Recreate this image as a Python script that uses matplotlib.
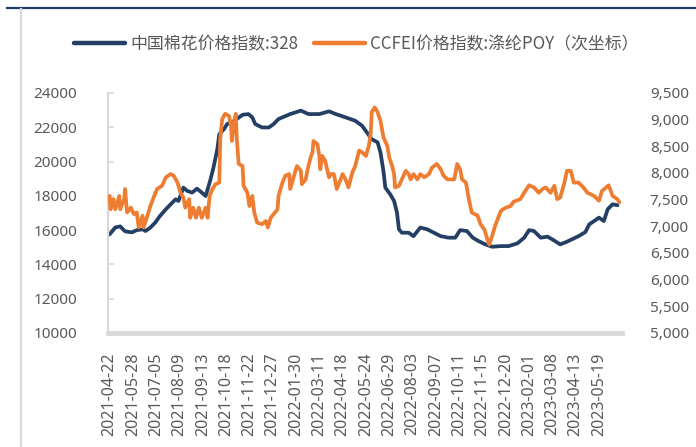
import matplotlib
matplotlib.use("Agg")
import matplotlib.pyplot as plt
from matplotlib.lines import Line2D
from matplotlib.ticker import FuncFormatter, FixedLocator

plt.rcParams['font.family'] = ['Noto Sans CJK SC', 'Noto Sans', 'DejaVu Sans']

# Category axis: trading days, labelled every 24 sessions
tick_labels = [
    "2021-04-22", "2021-05-28", "2021-07-05", "2021-08-09", "2021-09-13",
    "2021-10-18", "2021-11-22", "2021-12-27", "2022-01-30", "2022-03-11",
    "2022-04-18", "2022-05-24", "2022-06-29", "2022-08-03", "2022-09-07",
    "2022-10-11", "2022-11-15", "2022-12-20", "2023-02-01", "2023-03-08",
    "2023-04-13", "2023-05-19",
]
tick_step = 24

# China Cotton Index 328 (yuan/t), trading-day position -> value
cotton_pos = [0, 6, 11, 16, 23, 28, 34, 37, 42, 47, 52, 58, 63, 68, 71, 76, 80,
              85, 90, 95, 99, 104, 107, 111, 113, 118, 121, 126, 131, 137, 143,
              147, 150, 157, 164, 169, 174, 178, 186, 197, 205, 216, 226, 233,
              243, 253, 260, 265, 270, 276, 279, 282, 284, 289, 293, 296, 298,
              301, 308, 313, 320, 327, 334, 341, 349, 356, 361, 368, 374, 380,
              387, 394, 403, 411, 420, 427, 432, 437, 444, 451, 456, 464, 470,
              476, 483, 490, 494, 499, 504, 509, 513, 518, 523]
cotton_val = [15750, 16160, 16220, 15930, 15870, 16000, 16050, 15950, 16150,
              16440, 16830, 17220, 17510, 17800, 17700, 18480, 18290, 18190,
              18420, 18190, 17990, 18970, 19650, 20730, 21600, 21900, 22190,
              22290, 22480, 22730, 22770, 22580, 22190, 21990, 21990, 22190,
              22480, 22580, 22770, 22970, 22770, 22770, 22930, 22770, 22580,
              22380, 22090, 21700, 21310, 21120, 20530, 19460, 18480, 18090,
              17700, 17020, 16050, 15850, 15850, 15650, 16150, 16050, 15850,
              15650, 15560, 15560, 16000, 15950, 15560, 15360, 15170, 15030,
              15070, 15070, 15230, 15560, 16000, 15950, 15560, 15620, 15460,
              15170, 15300, 15460, 15650, 15890, 16340, 16530, 16730, 16530,
              17220, 17510, 17450]

# CCFEI polyester POY index (yuan/t, secondary axis)
poy_pos = [0, 1, 4, 6, 10, 11, 15, 16, 18, 22, 25, 28, 30, 34, 35, 39, 42, 46,
           49, 54, 58, 63, 66, 70, 73, 76, 78, 82, 83, 86, 89, 92, 95, 99, 101,
           103, 106, 109, 113, 114, 116, 119, 123, 125, 126, 128, 130, 131, 133,
           137, 138, 142, 144, 147, 149, 152, 157, 161, 163, 166, 169, 173, 174,
           178, 181, 185, 186, 190, 193, 197, 198, 202, 204, 207, 209, 210, 214,
           216, 217, 219, 222, 226, 228, 231, 234, 238, 240, 243, 246, 250, 253,
           257, 260, 264, 267, 269, 270, 273, 276, 279, 282, 286, 288, 291, 293,
           294, 298, 301, 305, 308, 310, 313, 317, 320, 324, 329, 332, 337, 341,
           344, 348, 355, 358, 361, 363, 367, 370, 373, 379, 382, 386, 389, 391,
           394, 397, 403, 408, 413, 416, 423, 428, 432, 437, 442, 446, 449, 454,
           458, 461, 464, 468, 471, 475, 478, 483, 488, 492, 499, 504, 507, 514,
           518, 523, 525]
poy_val = [7570, 7320, 7510, 7320, 7570, 7320, 7510, 7700, 7260, 7350, 7230,
           7260, 6980, 7200, 6980, 7200, 7380, 7570, 7700, 7760, 7920, 7980,
           7950, 7820, 7630, 7540, 7350, 7510, 7160, 7350, 7160, 7350, 7160,
           7350, 7160, 7570, 7700, 7790, 7820, 8640, 9010, 9110, 9070, 8890,
           8600, 8950, 9110, 8640, 8170, 8130, 7760, 7630, 7380, 7570, 7260,
           7070, 7040, 7100, 6980, 7160, 7230, 7320, 7570, 7820, 7950, 7980,
           7700, 7950, 8130, 8040, 7790, 7880, 8070, 8290, 8390, 8600, 8540,
           8320, 8070, 8320, 8230, 7920, 7980, 7980, 7700, 7880, 7980, 7880,
           7730, 8010, 8130, 8420, 8390, 8320, 8510, 8760, 9140, 9230, 9140,
           8980, 8670, 8510, 8290, 8130, 7980, 7730, 7760, 7880, 8040, 7980,
           7880, 7980, 7880, 7980, 7920, 7980, 8100, 8170, 8070, 7950, 7880,
           7880, 8170, 8070, 7880, 7820, 7510, 7260, 7200, 7040, 6940, 6760,
           6660, 6820, 7010, 7290, 7350, 7380, 7460, 7510, 7660, 7770, 7730,
           7630, 7700, 7730, 7630, 7760, 7510, 7540, 7790, 8040, 8040, 7820,
           7820, 7730, 7630, 7570, 7480, 7660, 7770, 7570, 7510, 7450]

left_ticks = [10000, 12000, 14000, 16000, 18000, 20000, 22000, 24000]
right_ticks = [5000, 5500, 6000, 6500, 7000, 7500, 8000, 8500, 9000, 9500]

NAVY = "#243F64"
ORANGE = "#EE7D31"
TEXT = "#595959"
AXIS_GRAY = "#D9D9D9"

W, H = 696, 447
fig = plt.figure(figsize=(W / 100, H / 100), dpi=100)
fig.patch.set_facecolor("white")

# page decoration: dark rule on top, light rule on the left
fig.add_artist(Line2D([7 / W, 1], [1 - 7.5 / H, 1 - 7.5 / H], color="#1F3D66",
                      lw=1.6, transform=fig.transFigure))
fig.add_artist(Line2D([21 / W, 21 / W], [0, 1 - 9 / H], color=AXIS_GRAY,
                      lw=1.6, transform=fig.transFigure))

x0, x1, y_top, y_bot = 108, 622, 93, 333
ax = fig.add_axes([x0 / W, 1 - y_bot / H, (x1 - x0) / W, (y_bot - y_top) / H])
ax2 = ax.twinx()

ax.plot(cotton_pos, cotton_val, color=NAVY, lw=2.7, solid_joinstyle="round",
        solid_capstyle="round")
ax2.plot(poy_pos, poy_val, color=ORANGE, lw=2.7, solid_joinstyle="round",
         solid_capstyle="round")

ax.set_xlim(-1.6, 527.7)
ax.set_ylim(10000, 24000)
ax2.set_ylim(5000, 9500)

ax.set_yticks(left_ticks)
ax2.set_yticks(right_ticks)
ax.yaxis.set_major_formatter(FuncFormatter(lambda v, p: f"{int(v)}"))
ax2.yaxis.set_major_formatter(FuncFormatter(lambda v, p: f"{int(v):,}"))

tick_pos = [i * tick_step for i in range(len(tick_labels))]
ax.xaxis.set_major_locator(FixedLocator(tick_pos))
ax.set_xticklabels(tick_labels, rotation=90, fontsize=11.5, color=TEXT,
                   family=["Noto Sans", "DejaVu Sans"])

for a in (ax, ax2):
    for s in a.spines.values():
        s.set_visible(False)
    a.set_facecolor("none")

ax.spines["left"].set_visible(True)
ax.spines["left"].set_color(AXIS_GRAY)
ax.spines["left"].set_linewidth(1.6)
ax.spines["bottom"].set_visible(True)
ax.spines["bottom"].set_color(AXIS_GRAY)
ax.spines["bottom"].set_linewidth(3.5)

ax.tick_params(axis="y", direction="in", length=4, width=1.2, color=AXIS_GRAY,
               labelsize=11, labelcolor=TEXT, pad=22)
ax.tick_params(axis="x", length=0, pad=14)
ax2.tick_params(axis="y", length=0, labelsize=11, labelcolor=TEXT, pad=20)
for lbl in ax.get_yticklabels() + ax2.get_yticklabels():
    lbl.set_family(["Noto Sans", "DejaVu Sans"])

handles = [Line2D([], [], color=NAVY, lw=3.2, solid_capstyle="round"),
           Line2D([], [], color=ORANGE, lw=3.2, solid_capstyle="round")]
labels = ["中国棉花价格指数:328", "CCFEI价格指数:涤纶POY（次坐标）"]
fig.legend(handles, labels, loc="center", bbox_to_anchor=(0.512, 1 - 44 / H),
           ncol=2, frameon=False, fontsize=12.2, labelcolor=TEXT,
           handlelength=3.0, handletextpad=0.35, columnspacing=0.9,
           borderaxespad=0)

fig.savefig("out.png", dpi=100, facecolor="white")
